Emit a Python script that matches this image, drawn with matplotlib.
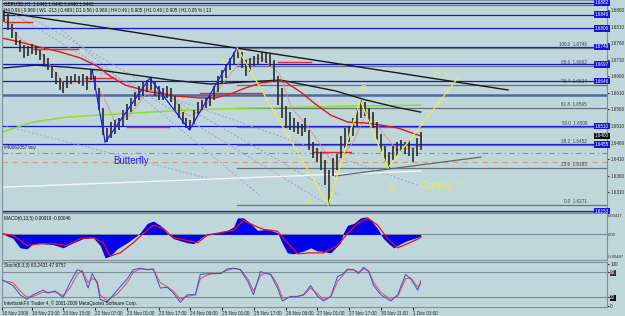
import matplotlib

matplotlib.use("Agg")
import matplotlib.pyplot as plt  # noqa: E402
import numpy as np  # noqa: E402
from matplotlib.transforms import blended_transform_factory  # noqa: E402

# ---- price bars (2-hour groups, GBPUSD H1 chart) ----
bar_hi = [1.6861, 1.6849, 1.6818, 1.6794, 1.6770, 1.6755, 1.6752, 1.6758, 1.6752, 1.6740,
          1.6728, 1.6716, 1.6691, 1.6673, 1.6655, 1.6643, 1.6661, 1.6661, 1.6667, 1.6661,
          1.6667, 1.6661, 1.6679, 1.6661, 1.6625, 1.6564, 1.6504, 1.6522, 1.6528, 1.6534,
          1.6558, 1.6576, 1.6595, 1.6613, 1.6631, 1.6643, 1.6649, 1.6655, 1.6643, 1.6631,
          1.6625, 1.6631, 1.6625, 1.6601, 1.6576, 1.6552, 1.6534, 1.6528, 1.6558, 1.6582,
          1.6589, 1.6595, 1.6601, 1.6631, 1.6661, 1.6679, 1.6697, 1.6716, 1.6734, 1.6746,
          1.6734, 1.6710, 1.6716, 1.6722, 1.6728, 1.6734, 1.6731, 1.6728, 1.6710, 1.6661,
          1.6625, 1.6570, 1.6552, 1.6534, 1.6522, 1.6516, 1.6534, 1.6498, 1.6461, 1.6443,
          1.6431, 1.6407, 1.6377, 1.6413, 1.6425, 1.6480, 1.6504, 1.6510, 1.6534, 1.6564,
          1.6589, 1.6582, 1.6564, 1.6552, 1.6522, 1.6486, 1.6449, 1.6431, 1.6449, 1.6461,
          1.6467, 1.6461, 1.6467, 1.6443, 1.6474, 1.6492]
bar_lo = [1.6824, 1.6800, 1.6776, 1.6755, 1.6734, 1.6716, 1.6722, 1.6728, 1.6725, 1.6710,
          1.6691, 1.6679, 1.6655, 1.6637, 1.6619, 1.6610, 1.6625, 1.6637, 1.6643, 1.6637,
          1.6631, 1.6619, 1.6649, 1.6619, 1.6558, 1.6483, 1.6461, 1.6474, 1.6486, 1.6498,
          1.6510, 1.6528, 1.6552, 1.6570, 1.6589, 1.6601, 1.6613, 1.6619, 1.6601, 1.6589,
          1.6589, 1.6595, 1.6582, 1.6558, 1.6534, 1.6516, 1.6504, 1.6498, 1.6516, 1.6546,
          1.6558, 1.6564, 1.6570, 1.6589, 1.6613, 1.6637, 1.6655, 1.6679, 1.6697, 1.6716,
          1.6685, 1.6661, 1.6673, 1.6691, 1.6697, 1.6703, 1.6700, 1.6691, 1.6643, 1.6573,
          1.6534, 1.6504, 1.6498, 1.6492, 1.6486, 1.6480, 1.6492, 1.6437, 1.6413, 1.6401,
          1.6377, 1.6331, 1.6271, 1.6359, 1.6377, 1.6413, 1.6443, 1.6461, 1.6480, 1.6510,
          1.6534, 1.6540, 1.6516, 1.6504, 1.6467, 1.6431, 1.6401, 1.6383, 1.6407, 1.6419,
          1.6431, 1.6425, 1.6419, 1.6401, 1.6419, 1.6437]
bid = 1.6480

# ---- moving averages (hour index, price) ----
ma_red_t = [0, 9, 16.7, 29.3, 39.4, 48, 54.5, 62, 74.7, 87.4, 100, 107.6, 115.2, 122.7,
            130.3, 137.9, 142.9, 150.5, 158.1, 165.7, 174.2, 183.3, 190.9, 199.5, 211.1]
ma_red = [1.6776, 1.6764, 1.6752, 1.6734, 1.6716, 1.6691, 1.6661, 1.6634, 1.6613, 1.6601,
          1.6595, 1.6595, 1.6607, 1.6625, 1.6640, 1.6646, 1.6643, 1.6613, 1.6576, 1.6543,
          1.6522, 1.6519, 1.6513, 1.6504, 1.6480]
ma_pink_t = [1, 9, 19, 26, 31.5, 39, 46, 51, 56.5, 64, 74, 84, 94, 101, 111, 121, 131,
             140, 146, 154, 161, 168, 177, 184, 191, 199, 211]
ma_pink = [1.6837, 1.6776, 1.6734, 1.6679, 1.6637, 1.6643, 1.6649, 1.6601, 1.6528, 1.6540,
           1.6619, 1.6607, 1.6540, 1.6558, 1.6637, 1.6709, 1.6716, 1.6667, 1.6564, 1.6510,
           1.6449, 1.6389, 1.6461, 1.6552, 1.6498, 1.6437, 1.6449]
ma_black_t = [0, 16.7, 32.8, 49.5, 67, 84.8, 105, 122.7, 140.4, 155.6, 168.2, 183.3,
              198.5, 211.1]
ma_black = [1.6685, 1.6694, 1.6688, 1.6679, 1.6664, 1.6649, 1.6637, 1.6643, 1.6649,
            1.6631, 1.6616, 1.6589, 1.6567, 1.6552]
ma_green_t = [0, 15.7, 32.8, 49.5, 66.2, 83.3, 105, 125.3, 150.5, 175.8, 211.1]
ma_green = [1.6492, 1.6522, 1.6537, 1.6543, 1.6549, 1.6555, 1.6561, 1.6564, 1.6567,
            1.6570, 1.6573]

# ---- drawn objects ----
trend_t, trend_p = [0, 255.1], [1.6855, 1.6619]
white_t, white_p = [0, 211.1], [1.6325, 1.6374]
cline_t, cline_p = [168.2, 241.4], [1.6359, 1.6416]
blue_levels = [1.6882, 1.6846, 1.6806, 1.6749, 1.6697, 1.6646, 1.6510, 1.6455, 1.6253]
gray_level = 1.6876
slate_level = 1.6604
green_dash = 1.6428
orange_dash = 1.6401
red_seg_t0 = [1.5, 15.7, 42, 63, 100, 139, 157]
red_seg_t1 = [15, 38.4, 57, 84, 131.8, 155.6, 175.8]
red_seg_p = [1.6824, 1.6743, 1.6655, 1.6507, 1.6610, 1.6703, 1.6431]
fans_t0 = [0, 10, 30, 46, 0]
fans_p0 = [1.6870, 1.6855, 1.6800, 1.6679, 1.6513]
fans_t1 = [164.5, 170, 130, 210, 105]
fans_p1 = [1.6271, 1.6300, 1.6300, 1.6330, 1.6350]

fly_t = [45.5, 52, 74.5, 94.5, 118.5]
fly_p = [1.6679, 1.6461, 1.6655, 1.6498, 1.6746]
gart_t = [118.5, 164.5, 180.5, 194.5, 229.8]
gart_p = [1.6746, 1.6271, 1.6589, 1.6383, 1.6655]
gart_lab = ["X", "A", "B", "C", "D ?"]
gart_lab_t = [110, 153, 180.5, 195, 218]
gart_lab_p = [1.6706, 1.6284, 1.6623, 1.6322, 1.6664]
fib_ratios = [0.0, 23.6, 38.2, 50.0, 61.8, 76.4, 88.6, 100.0]

# ---- MACD ----
hist_t = [0, 5.6, 9.1, 12.6, 15.7, 20.7, 25.8, 30.8, 35.9, 40.9, 46, 49.5, 52, 54.5, 58.1,
          63.1, 68.2, 69.7, 73.2, 76.3, 79.8, 83.3, 86.4, 93.4, 96.5, 100, 103.5, 108.6,
          113.6, 116.7, 118.7, 121.7, 125.3, 128.8, 133.8, 138.9, 141.4, 143.9, 147, 152,
          155.6, 159.1, 160.6, 165.7, 170.7, 172.2, 174.2, 177.3, 180.8, 183.3, 185.9,
          189.4, 191.9, 194.9, 197.5, 201, 204.5, 207.6, 211.1]
hist_v = [0.0002, -0.0009, -0.0029, -0.0031, -0.0020, -0.0020, -0.0022, -0.0029, -0.0018,
          -0.0009, -0.0007, -0.0024, -0.0051, -0.0047, -0.0031, -0.0018, -0.0002, 0.0004,
          0.0024, 0.0029, 0.0020, 0.0002, -0.0009, -0.0018, -0.0020, -0.0009, 0.0002,
          0.0004, 0.0009, 0.0016, 0.0036, 0.0036, 0.0024, 0.0009, 0.0011, 0.0004, -0.0020,
          -0.0040, -0.0042, -0.0036, -0.0029, -0.0036, -0.0036, -0.0040, -0.0018, 0.0004,
          0.0020, 0.0024, 0.0036, 0.0038, 0.0031, 0.0013, -0.0007, -0.0020, -0.0029,
          -0.0020, -0.0013, -0.0009, -0.0004]
sig_t = [0, 5.6, 12.6, 19.2, 25.8, 32.8, 39.4, 46, 51, 54.5, 59.6, 66.2, 71.2, 76.3, 81.3,
         86.4, 93.4, 98.5, 103.5, 110.1, 116.7, 121.7, 126.8, 131.8, 138.9, 143.9, 149,
         155.6, 162.1, 169.2, 174.2, 179.3, 184.3, 189.4, 194.4, 199.5, 204.5, 211.1]
sig_v = [0.0002, -0.0002, -0.0024, -0.0020, -0.0020, -0.0024, -0.0009, -0.0007, -0.0018,
         -0.0047, -0.0040, -0.0018, 0.0002, 0.0020, 0.0013, -0.0007, -0.0013, -0.0018,
         -0.0002, 0.0004, 0.0009, 0.0031, 0.0020, 0.0011, 0.0007, -0.0018, -0.0042,
         -0.0040, -0.0040, -0.0024, 0.0002, 0.0024, 0.0036, 0.0020, -0.0009, -0.0029,
         -0.0020, -0.0007]

# ---- Stochastic ----
sto_t = [0, 5.6, 9.1, 12.6, 15.7, 20.7, 23.2, 26.8, 30.8, 34.3, 37.9, 40.4, 43.4, 45.5,
         48, 49.5, 53, 58.1, 63.1, 66.2, 69.7, 73.2, 76.3, 79.8, 83.3, 86.4, 89.9, 93.4,
         97.5, 100, 105, 110.1, 113.6, 116.7, 120.2, 124.2, 126.8, 130.3, 132.8, 135.4,
         138.9, 141.4, 145.5, 149, 152, 155.6, 159.1, 162.1, 165.7, 169.2, 171.7, 174.2,
         177.3, 179.8, 182.3, 184.8, 187.4, 190.9, 196, 199.5, 203.5, 206.1, 209.6, 211.1]
sto_main = [62, 48, 26, 15, 26, 37, 30, 35, 19, 55, 86, 82, 42, 77, 53, 15, 8, 37, 64, 86,
            90, 86, 88, 42, 44, 30, 8, 26, 26, 75, 77, 77, 88, 90, 86, 55, 26, 82, 77, 75,
            42, 11, 22, 22, 26, 48, 22, 11, 22, 70, 75, 88, 86, 77, 92, 82, 48, 26, 11, 26,
            75, 64, 37, 59]
sto_sig = [60, 55, 35, 20, 22, 32, 32, 33, 24, 42, 75, 84, 55, 65, 60, 25, 12, 28, 55, 80,
           88, 87, 87, 55, 45, 35, 15, 22, 26, 65, 76, 77, 85, 89, 87, 62, 35, 72, 78, 76,
           50, 18, 20, 22, 25, 42, 28, 15, 20, 58, 72, 85, 86, 80, 88, 84, 55, 32, 15, 22,
           65, 66, 44, 52]

time_pos = [0, 15, 31, 47, 63, 79, 95, 111, 127, 143, 159, 175, 191, 207]
time_lab = ["18 Nov 2009", "19 Nov 23:00", "20 Nov 15:00", "22 Nov 07:00", "23 Nov 01:00",
            "23 Nov 17:00", "24 Nov 09:00", "25 Nov 01:00", "25 Nov 17:00", "26 Nov 09:00",
            "27 Nov 01:00", "27 Nov 17:00", "30 Nov 11:00", "1 Dec 03:00"]
price_ticks = [1.6860, 1.6810, 1.6760, 1.6710, 1.6660, 1.6610, 1.6560, 1.6510, 1.6460,
               1.6410, 1.6360, 1.6310]

BG = "#bfd6da"
EDGE = "#7d9098"
FONT = "Liberation Sans"
W, H = 625, 316
XMAX = 305
SMALL = 3.3

plt.rcParams["font.family"] = FONT
fig = plt.figure(figsize=(6.25, 3.16), dpi=100, facecolor=BG)


def px_axes(x0, y0, x1, y1):
    a = fig.add_axes([x0 / W, 1 - y1 / H, (x1 - x0) / W, (y1 - y0) / H])
    a.set_facecolor(BG)
    a.set_xlim(0, XMAX)
    for s in a.spines.values():
        s.set_color(EDGE)
        s.set_linewidth(0.8)
    a.tick_params(axis="x", bottom=False, labelbottom=False)
    a.yaxis.tick_right()
    a.tick_params(axis="y", labelsize=SMALL, length=1.5, pad=0.8, colors="#2a2a2a")
    return a


ax = px_axes(2, 0, 607, 212)
am = px_axes(2, 213, 607, 260)
st = px_axes(2, 262, 607, 307)

# ---------------- main price panel ----------------
ax.set_ylim(1.6250, 1.6891)
ax.set_yticks(price_ticks)
ax.set_yticklabels([f"{p:.4f}" for p in price_ticks])

for p in blue_levels:
    ax.axhline(p, color="#1414e6", lw=0.9, zorder=1)
ax.axhline(gray_level, color="#6a7a86", lw=0.9, zorder=1)
ax.axhline(slate_level, color="#5068a0", lw=1.8, zorder=1)
ax.axhline(green_dash, color="#6fa070", lw=0.8, ls=(0, (5, 3, 1, 3)), zorder=1)
ax.axhline(orange_dash, color="#e0987a", lw=0.8, ls=(0, (5, 4)), zorder=1)

for t0, p0, t1, p1 in zip(fans_t0, fans_p0, fans_t1, fans_p1):
    ax.plot([t0, t1], [p0, p1], color="#a49cd4", lw=0.7, ls=(0, (2, 2)), zorder=1)

# fibonacci retracement from X to A of the Gartley
fx_hi, fx_lo = gart_p[0], gart_p[1]
for r in fib_ratios:
    lvl = fx_lo + (fx_hi - fx_lo) * r / 100
    ax.plot([gart_t[0], XMAX], [lvl, lvl], color="#66747e", lw=0.9, zorder=1)
    ax.text(295, lvl + 0.0002, f"{r:.1f}  {lvl:.4f}", fontsize=SMALL, color="#34414a",
            ha="right", va="bottom", zorder=2)

ax.plot(white_t, white_p, color="#f4f8f8", lw=1.0, zorder=2)
ax.plot(cline_t, cline_p, color="#5c6870", lw=0.9, zorder=2)
ax.plot(ma_green_t, ma_green, color="#86e01c", lw=1.0, zorder=2)
ax.plot(ma_black_t, ma_black, color="#1e1e1e", lw=1.0, zorder=2)
ax.plot(ma_pink_t, ma_pink, color="#e88a8a", lw=0.6, zorder=2)
ax.plot(ma_red_t, ma_red, color="#e01818", lw=1.0, zorder=2)
for t0, t1, p in zip(red_seg_t0, red_seg_t1, red_seg_p):
    ax.plot([t0, t1], [p, p], color="#e62a2a", lw=1.0, zorder=2)
ax.plot(trend_t, trend_p, color="#181818", lw=1.0, zorder=2)

bar_x = np.arange(len(bar_hi)) * 2 + 1
ax.vlines(bar_x, bar_lo, bar_hi, color="#2b2b2b", lw=1.2, zorder=3)

ax.plot(fly_t, fly_p, color="#1a1aff", lw=0.9, zorder=4)
ax.plot(gart_t, gart_p, color="#ecec52", lw=0.9, zorder=4)
for lab, t, p in zip(gart_lab, gart_lab_t, gart_lab_p):
    ax.text(t, p, lab, fontsize=6.5, color="#ecec52", ha="left", va="center", zorder=5)
ax.text(56, 1.6404, "Butterfly", fontsize=7, color="#2222e8", ha="left", va="center", zorder=5)
ax.text(211, 1.6328, "Gartley ?", fontsize=7, color="#ecec52", ha="left", va="center", zorder=5)
ax.text(1, 1.6446, "#40062057 buy", fontsize=SMALL, color="#202020", ha="left", va="center")

ax.text(0.004, 0.995, "GBPUSD,H1  1.6441 1.6446 1.6440 1.6443", transform=ax.transAxes,
        fontsize=SMALL, color="#101010", ha="left", va="top")
ax.text(0.004, 0.962,
        "H4 0.96 | 0.969 | W1 -213 | 0.469 | D1 0.56 | 0.969 | H4 0.46 | 0.905 | H1 0.46 | 0.905 | H1 0.05 % | 13",
        transform=ax.transAxes, fontsize=SMALL, color="#101010", ha="left", va="top")

tr = blended_transform_factory(fig.transFigure, ax.transData)
for p in blue_levels:
    ax.text(595 / W, p, f"{p:.4f}", transform=tr, fontsize=SMALL, color="white",
            ha="left", va="center", clip_on=False, zorder=6,
            bbox=dict(boxstyle="square,pad=0.2", fc="#1414e6", ec="none"))
ax.text(595 / W, bid, f"{bid:.4f}", transform=tr, fontsize=SMALL, color="white",
        ha="left", va="center", clip_on=False, zorder=6,
        bbox=dict(boxstyle="square,pad=0.2", fc="#101010", ec="none"))

# ---------------- MACD ----------------
am.set_ylim(-0.00555, 0.00466)
am.set_yticks([0.00417, 0.0, -0.00487])
am.set_yticklabels(["0.00417", "0.00", "-0.00487"])
am.tick_params(axis="y", labelsize=3.0, length=0, pad=0.3)
am.axhline(0, color="#7d9098", lw=0.8)
am.fill_between(hist_t, 0, hist_v, color="#0000f0", lw=0, zorder=2)
am.plot(sig_t, sig_v, color="#f01010", lw=0.9, zorder=3)
am.text(0.004, 0.93, "MACD(6,13,5) 0.00019 -0.00046", transform=am.transAxes,
        fontsize=SMALL, color="#101010", ha="left", va="top")

# ---------------- Stochastic ----------------
st.set_ylim(-3.5, 104.7)
st.set_yticks([100, 80, 20, 0])
st.set_yticklabels(["100", "80", "20", "0"])
st.axhline(80, color="#7d9098", lw=0.8)
st.axhline(20, color="#7d9098", lw=0.8)
for lbl, fc in zip(st.get_yticklabels()[1:3], ["#3a3a3a", "#101010"]):
    lbl.set_color("white")
    lbl.set_bbox(dict(boxstyle="square,pad=0.15", fc=fc, ec="none"))
st.plot(sto_t, sto_sig, color="#e05050", lw=0.7, zorder=2)
st.plot(sto_t, sto_main, color="#4a4ad0", lw=0.7, zorder=3)
st.text(0.004, 0.97, "Stoch(8,3,3) 63.2431 47.9757", transform=st.transAxes,
        fontsize=SMALL, color="#101010", ha="left", va="top")
st.text(0.004, 0.03, "InterbankFX Trader 4, \u00a9 2001-2009 MetaQuotes Software Corp.",
        transform=st.transAxes, fontsize=SMALL, color="#101010", ha="left", va="bottom")

st.set_xticks(time_pos)
st.set_xticklabels(time_lab)
st.tick_params(axis="x", bottom=True, labelbottom=True, labelsize=SMALL, length=2, pad=1,
               colors="#2a2a2a")
for lbl in st.get_xticklabels():
    lbl.set_ha("left")

fig.savefig("out.png", dpi=100, facecolor=BG)
